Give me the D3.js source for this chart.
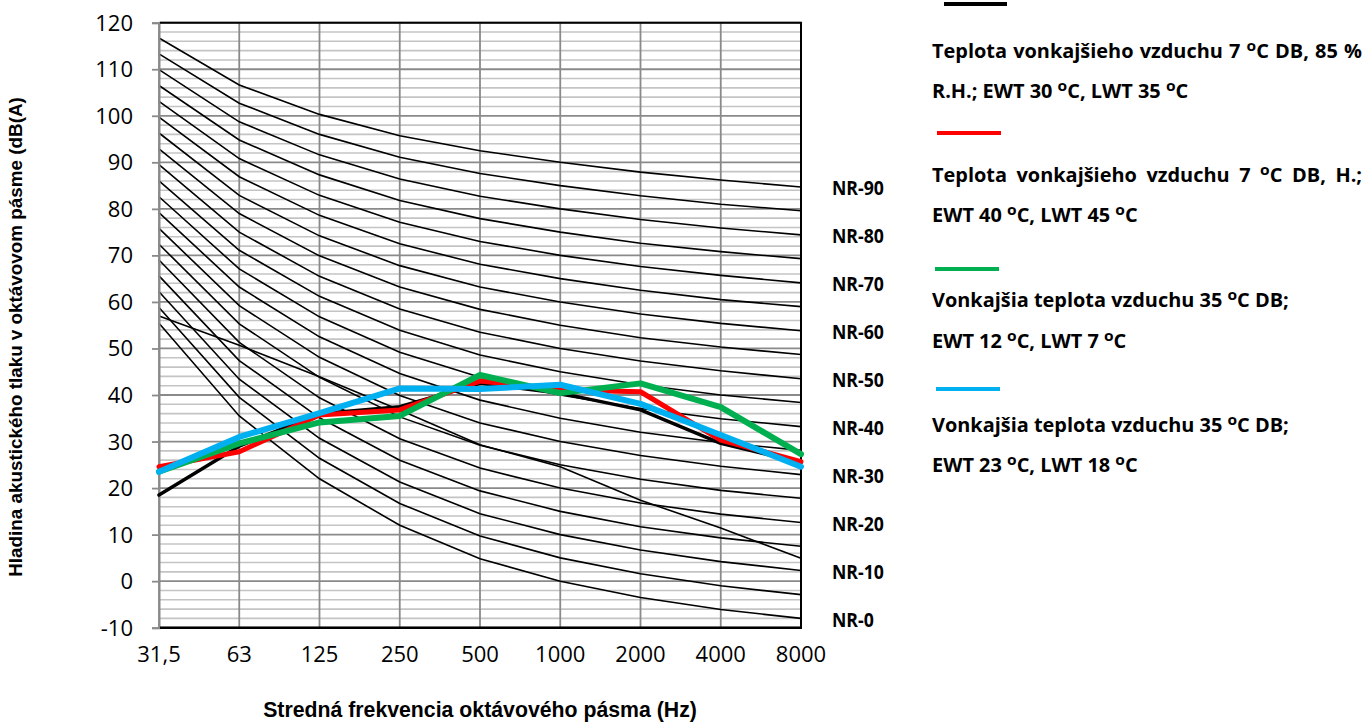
<!DOCTYPE html>
<html><head><meta charset="utf-8">
<script src="https://cdn.jsdelivr.net/npm/d3@7"></script>
<style>body{margin:0;background:#fff}svg{display:block}</style>
</head><body>
<svg id="chart" width="1372" height="727"></svg>
<script>
// ---------- DATA ----------
const categories = ["31,5", "63", "125", "250", "500", "1000", "2000", "4000", "8000"];
const yTickValues = [-10, 0, 10, 20, 30, 40, 50, 60, 70, 80, 90, 100, 110, 120];
const nrLevels = [0, 5, 10, 15, 20, 25, 30, 35, 40, 45, 50, 55, 60, 65, 70, 75, 80, 85, 90];
const nrCurves = [
  [55.4, 35.5, 22.0, 12.0, 4.8, 0, -3.5, -6.1, -8.0],
  [58.8, 39.5, 26.4, 16.7, 9.7, 5, 1.6, -1.0, -2.9],
  [62.2, 43.4, 30.7, 21.3, 14.5, 10, 6.7, 4.2, 2.3],
  [65.6, 47.4, 35.1, 26.0, 19.4, 15, 11.7, 9.3, 7.5],
  [69.0, 51.3, 39.4, 30.6, 24.3, 20, 16.8, 14.4, 12.6],
  [72.4, 55.3, 43.8, 35.3, 29.2, 25, 21.9, 19.5, 17.8],
  [75.8, 59.2, 48.1, 39.9, 34.0, 30, 27.0, 24.7, 22.9],
  [79.2, 63.2, 52.5, 44.6, 38.9, 35, 32.0, 29.8, 28.1],
  [82.6, 67.1, 56.8, 49.2, 43.8, 40, 37.1, 34.9, 33.2],
  [86.0, 71.1, 61.2, 53.9, 48.6, 45, 42.2, 40.0, 38.4],
  [89.5, 75.0, 65.5, 58.5, 53.5, 50, 47.3, 45.2, 43.5],
  [92.9, 79.0, 69.9, 63.2, 58.4, 55, 52.3, 50.3, 48.7],
  [96.3, 82.9, 74.2, 67.8, 63.2, 60, 57.4, 55.4, 53.8],
  [99.7, 86.9, 78.6, 72.5, 68.1, 65, 62.5, 60.5, 59.0],
  [103.1, 90.8, 82.9, 77.1, 73.0, 70, 67.6, 65.7, 64.1],
  [106.5, 94.8, 87.3, 81.8, 77.9, 75, 72.6, 70.8, 69.3],
  [109.9, 98.7, 91.6, 86.4, 82.7, 80, 77.7, 75.9, 74.4],
  [113.3, 102.7, 96.0, 91.1, 87.6, 85, 82.8, 81.0, 79.6],
  [116.7, 106.6, 100.3, 95.7, 92.5, 90, 87.9, 86.2, 84.7]
];
const nrLabelLevels = [0, 10, 20, 30, 40, 50, 60, 70, 80, 90];
const crossCurve = [57.0, 50.7, 43.9, 36.8, 29.3, 24.6, 17.4, 11.4, 4.9];

const seriesBlack = [18.5, 29.0, 36.0, 37.5, 42.5, 40.4, 36.8, 29.6, 25.5];
const seriesRed   = [24.6, 27.8, 35.7, 36.8, 43.0, 41.1, 40.7, 30.3, 25.7];
const seriesGreen = [23.5, 29.6, 34.1, 35.5, 44.3, 40.4, 42.5, 37.4, 27.3];
const seriesBlue  = [23.5, 31.0, 36.1, 41.4, 41.3, 42.2, 38.1, 31.4, 24.6];

const legendLines1 = ["Teplota vonkajšieho vzduchu 7 ^oC DB, 85 %", "R.H.; EWT 30 ^oC, LWT 35 ^oC"];
const legendLines2 = ["Teplota vonkajšieho vzduchu 7 ^oC DB, H.;", "EWT 40 ^oC, LWT 45 ^oC"];
const legendLines3 = ["Vonkajšia teplota vzduchu 35 ^oC DB;", "EWT 12 ^oC, LWT 7 ^oC"];
const legendLines4 = ["Vonkajšia teplota vzduchu 35 ^oC DB;", "EWT 23 ^oC, LWT 18 ^oC"];

const xTitle = "Stredná frekvencia oktávového pásma (Hz)";
const yTitle = "Hladina akustického tlaku v oktávovom pásme (dB(A)";

(function () {
// ---------- STYLE / LAYOUT ----------
const series = [
  {values: seriesBlack, color: "#000000", width: 3.5, lines: legendLines1, swY: 4,   swX: [944, 1007], textY: [58, 98],   justify: [true, false]},
  {values: seriesRed,   color: "#FF0000", width: 5,   lines: legendLines2, swY: 133, swX: [937, 1001], textY: [182, 222], justify: [true, false]},
  {values: seriesGreen, color: "#00B050", width: 6,   lines: legendLines3, swY: 269, swX: [935, 999],  textY: [307, 348], justify: [false, false]},
  {values: seriesBlue,  color: "#00B0F0", width: 6,   lines: legendLines4, swY: 389, swX: [936, 1000], textY: [432, 472], justify: [false, false]}
];

const svg = d3.select("#chart");
svg.append("rect").attr("width", 1372).attr("height", 727).attr("fill", "#fff");

const pLeft = 159, pRight = 801, pTop = 22.7, pBottom = 627.7;
const x = d3.scalePoint().domain(categories).range([pLeft, pRight]);
const y = d3.scaleLinear().domain([-10, 120]).range([pBottom, pTop]);

const grid = svg.append("g");
const minor = d3.range(-10, 121, 2).filter(v => v % 10 !== 0);
grid.selectAll(".minor").data(minor).join("line")
  .attr("x1", pLeft).attr("x2", pRight)
  .attr("y1", d => y(d)).attr("y2", d => y(d))
  .attr("stroke", "#c4c4c4").attr("stroke-width", 1.6);
grid.selectAll(".major").data(yTickValues).join("line")
  .attr("x1", pLeft).attr("x2", pRight)
  .attr("y1", d => y(d)).attr("y2", d => y(d))
  .attr("stroke", "#8a8a8a").attr("stroke-width", 1.8);
grid.selectAll(".vert").data(categories).join("line")
  .attr("x1", d => x(d)).attr("x2", d => x(d))
  .attr("y1", pTop).attr("y2", pBottom)
  .attr("stroke", "#8a8a8a").attr("stroke-width", 1.8);

const line = d3.line().x((d, i) => x(categories[i])).y(d => y(d));
svg.append("g").selectAll("path").data(nrCurves).join("path")
  .attr("d", d => line(d)).attr("fill", "none")
  .attr("stroke", "#000").attr("stroke-width", 1.6);
svg.append("path").attr("d", line(crossCurve)).attr("fill", "none")
  .attr("stroke", "#000").attr("stroke-width", 1.6);

const yAxis = d3.axisLeft(y).tickValues(yTickValues).tickSize(7).tickFormat("");
const ya = svg.append("g").attr("transform", `translate(${pLeft},0)`).call(yAxis);
ya.select(".domain").attr("stroke", "#8a8a8a").attr("stroke-width", 2);
ya.selectAll(".tick line").attr("stroke", "#8a8a8a").attr("stroke-width", 1.8);
svg.append("line").attr("x1", pLeft + 1).attr("x2", pRight + 1).attr("y1", pTop).attr("y2", pTop).attr("stroke", "#000").attr("stroke-width", 2);
svg.append("line").attr("x1", pRight).attr("x2", pRight).attr("y1", pTop).attr("y2", pBottom).attr("stroke", "#000").attr("stroke-width", 2);
svg.append("line").attr("x1", pLeft + 1).attr("x2", pRight + 1).attr("y1", pBottom).attr("y2", pBottom).attr("stroke", "#000").attr("stroke-width", 2.5);

const tickFont = "'Open Sans', Lato, sans-serif";
svg.append("g").selectAll("text").data(yTickValues).join("text")
  .attr("x", 133).attr("y", d => y(d) + 8)
  .attr("text-anchor", "end").attr("font-family", tickFont).attr("font-size", 22).attr("fill", "#000")
  .text(d => d);
svg.append("g").selectAll("text").data(categories).join("text")
  .attr("x", d => x(d)).attr("y", 662)
  .attr("text-anchor", "middle").attr("font-family", tickFont).attr("font-size", 22).attr("fill", "#000")
  .text(d => d);

function fitText(t, target) {
  const w = t.node().getComputedTextLength();
  const fs = parseFloat(t.attr("font-size"));
  t.attr("font-size", fs * target / w);
}

const xt = svg.append("text").attr("x", 480).attr("y", 717).attr("text-anchor", "middle")
  .attr("font-family", "'Liberation Sans', Arial, sans-serif").attr("font-weight", "bold").attr("font-size", 18).text(xTitle);
fitText(xt, 434);
const yt = svg.append("text").attr("transform", "translate(22,337) rotate(-90)").attr("text-anchor", "middle")
  .attr("font-family", "'Liberation Sans', Arial, sans-serif").attr("font-weight", "bold").attr("font-size", 16).text(yTitle);
fitText(yt, 480);

const boldFont = "'Open Sans', Lato, sans-serif";
const nrG = svg.append("g");
const nrFs = 19;
const probe = nrG.append("text").attr("font-family", boldFont).attr("font-weight", "bold").attr("font-size", nrFs).text("NR-90");
const nrK = 52 / probe.node().getComputedTextLength();
probe.remove();
nrG.selectAll("text").data(nrLabelLevels).join("text")
  .attr("transform", d => `translate(832,${y(nrCurves[nrLevels.indexOf(d)][8]) + 1.5 + nrFs * 0.36}) scale(${nrK},1)`)
  .attr("font-family", boldFont).attr("font-weight", "bold").attr("font-size", nrFs).attr("fill", "#000")
  .text(d => "NR-" + d);

const sl = svg.append("g");
series.forEach(s => {
  sl.append("path").attr("d", line(s.values)).attr("fill", "none")
    .attr("stroke", s.color).attr("stroke-width", s.width)
    .attr("stroke-linejoin", "round").attr("stroke-linecap", "round");
});

// Legend: bold humanist text, slightly condensed to the reference widths
const legFs = 19;
const legX = 932, legRight = 1362;
const lgOuter = svg.append("g");
const lg = lgOuter.append("g");
function addWord(t, word, fs) {
  const parts = word.split("^o");
  parts.forEach((p, i) => {
    if (i > 0) {
      t.append("tspan").attr("font-size", fs * 0.78).attr("dy", -fs * 0.36).text("o");
      t.append("tspan").attr("dy", fs * 0.36).text(p);
    } else if (p.length) {
      t.append("tspan").text(p);
    }
  });
}
function mk(parent, fs) {
  return parent.append("text").attr("font-family", boldFont).attr("font-weight", "bold").attr("font-size", fs);
}
function measureLine(str, fs) {
  const words = str.split(" ");
  const tmp = lg.append("g");
  const ws = words.map(w => { const t = mk(tmp, fs); addWord(t, w, fs); return t.node().getComputedTextLength(); });
  const sp = mk(tmp, fs).text("n n").node().getComputedTextLength() - mk(tmp, fs).text("nn").node().getComputedTextLength();
  tmp.remove();
  return {ws, sp, total: d3.sum(ws) + sp * (words.length - 1)};
}
const legK = 357 / measureLine(legendLines3[0], legFs).total;
lg.attr("transform", `translate(${legX},0) scale(${legK},1)`);
const innerRight = (legRight - legX) / legK;
function drawLine(str, yb, justify) {
  const words = str.split(" ");
  const m = measureLine(str, legFs);
  const gap = justify ? (innerRight - d3.sum(m.ws)) / (words.length - 1) : m.sp;
  let cx = 0;
  words.forEach((w, i) => {
    const t = mk(lg, legFs).attr("x", cx).attr("y", yb).attr("fill", "#000");
    addWord(t, w, legFs);
    cx += m.ws[i] + gap;
  });
}
series.forEach(s => {
  lgOuter.append("line").attr("x1", s.swX[0]).attr("x2", s.swX[1]).attr("y1", s.swY).attr("y2", s.swY)
    .attr("stroke", s.color).attr("stroke-width", 4);
  s.lines.forEach((ln, i) => drawLine(ln, s.textY[i], s.justify[i]));
});
})();
</script>
</body></html>
